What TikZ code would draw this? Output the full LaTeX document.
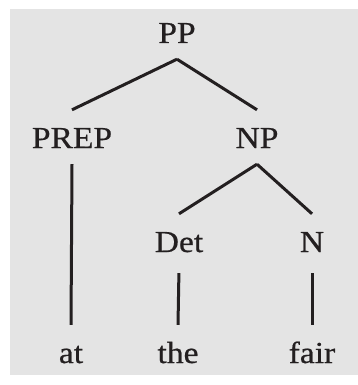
\documentclass[tikz,border=0pt]{standalone}
\usepackage{fontspec}
\setmainfont[FakeStretch=1.1, FakeBold=0.6]{Liberation Serif}
\usepackage{xcolor}
\usepackage{tikz}
\definecolor{panel}{HTML}{E4E4E4}
\definecolor{ink}  {HTML}{231F20}

\begin{document}
\begin{tikzpicture}[
  x=1pt, y=-1pt,
  % Tall, deep boxes so the branches meet north and south anchors directly.
  cat/.style={anchor=base, inner sep=0pt, text height=38pt, text depth=16pt,
              font=\fontsize{30.5}{36}\selectfont, text=ink},
  branch/.style={line width=3pt, draw=ink},
  leaf/.style={line width=3pt, draw=ink, shorten <=5pt}
]

% --- Grey panel ---
\useasboundingbox (0,0) rectangle (358,385);
\fill[panel] (10,9) rectangle (358,375);

% --- Phrase nodes ---
\node[cat] (pp)   at (177,43)  {PP};
\node[cat] (prep) at (72,148)  {PREP};
\node[cat] (np)   at (257,148) {NP};
\node[cat] (det)  at (179,252) {Det};
\node[cat] (n)    at (312,252) {N};

% --- Words ---
\node[cat] (at)   at (71,363)  {at};
\node[cat] (the)  at (178,363) {the};
\node[cat] (fair) at (312,363) {fair};

% --- Branches ---
\draw[branch] (pp.south) -- (prep.north);
\draw[branch] (pp.south) -- (np.north);
\draw[branch] (prep.south) -- (at.north);
\draw[branch] (np.south) -- (det.north);
\draw[branch] (np.south) -- (n.north);
\draw[leaf] (det.south) -- (the.north);
\draw[leaf] (n.south) -- (fair.north);

\end{tikzpicture}
\end{document}
